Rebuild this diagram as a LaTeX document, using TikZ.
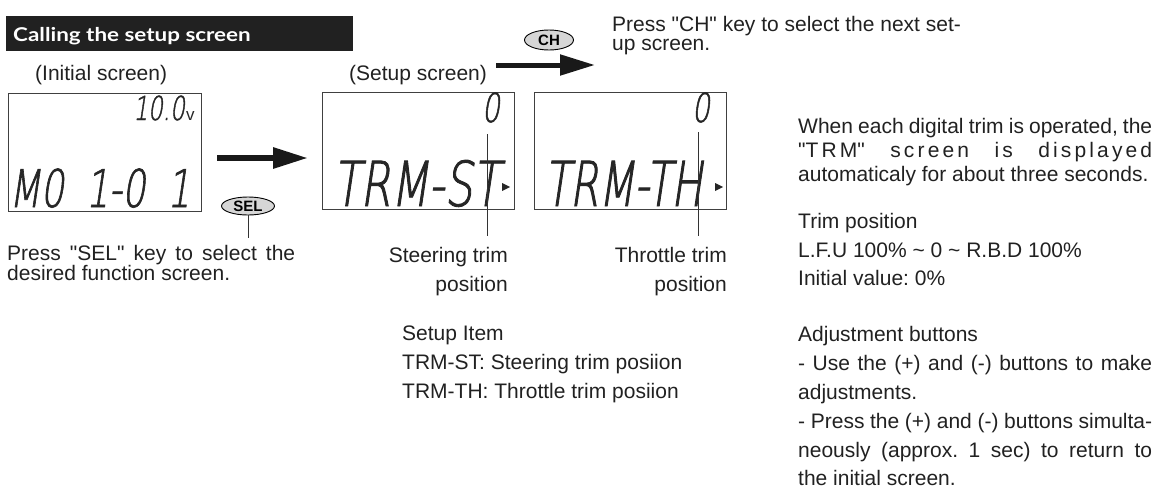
\documentclass[tikz,border=0pt]{standalone}
\usepackage{fontspec}
\setmainfont{Liberation Sans}
\newfontfamily\titlefont{Lato}[FakeStretch=1.18]
\newfontfamily\lcdfont{DejaVu Sans ExtraLight}[FakeSlant=0.15,FakeStretch=0.7,FakeBold=1.2]
\newfontfamily\lcdwide{DejaVu Sans ExtraLight}[FakeSlant=0.15,FakeStretch=0.71,FakeBold=1.4]
\newfontfamily\lcdnarrow{DejaVu Sans ExtraLight}[FakeSlant=0.15,FakeStretch=0.67,FakeBold=1.4]
\usetikzlibrary{shapes.geometric,arrows.meta}
\definecolor{ink}{gray}{0.13}
\definecolor{barfill}{gray}{0.13}
\definecolor{keyfill}{gray}{0.84}
\definecolor{lcdink}{gray}{0.15}
\newcommand\bodysize{\fontsize{21}{25}\selectfont}
\newcommand\q{\textquotedbl}
\frenchspacing
\begin{document}
\begin{tikzpicture}[x=1pt,y=-1pt,
  txt/.style={font=\bodysize, text=ink, inner sep=0pt, anchor=base west},
  txtr/.style={txt, anchor=base east},
  screen/.style={draw=black!75, line width=1.1pt, inner sep=0pt, anchor=north west},
  lcd/.style={text=lcdink, inner sep=0pt},
  keybtn/.style={ellipse, draw=black, line width=0.9pt, fill=keyfill, inner sep=0pt,
    font=\bfseries\fontsize{15}{15}\selectfont, text=black},
  bigarrow/.style={draw=black!90, -{Triangle[length=35pt,width=20pt]}},
  leader/.style={draw=black!80, line width=0.9pt},
  cursor/.style={fill=black!85}]
\useasboundingbox (0,0) rectangle (1169,490);

% title bar
\node[fill=barfill, anchor=north west, minimum width=347pt, minimum height=35pt, inner sep=0pt] (bar) at (6,16) {};
\node[anchor=base west, inner sep=0pt, text=white, font=\titlefont\bfseries\fontsize{19}{20}\selectfont] (title) at (13,41) {Calling the setup screen};

% screen captions
\node[txt] (initlbl) at (35,80) {(Initial screen)};
\node[txt] (setuplbl) at (349,80) {(Setup screen)};

% LCD screens
\node[screen, minimum width=193pt, minimum height=118pt] (scrA) at (8,93) {};
\node[screen, minimum width=192pt, minimum height=117pt] (scrB) at (322,92) {};
\node[screen, minimum width=192pt, minimum height=117pt] (scrC) at (534,92) {};

% LCD contents
\node[lcd, anchor=base east, font=\lcdfont\fontsize{33}{33}\selectfont] (volt) at (185,120) {10.0};
\node[lcd, anchor=base west, font=\fontsize{17}{17}\selectfont] (vunit) at (186,120) {v};
\node[lcd, anchor=base west, font=\lcdfont\fontsize{52}{52}\selectfont] (model) at (9,207) {M0\hspace{22pt}1-0\hspace{22pt}1};

\node[lcd, anchor=base east, font=\lcdfont\fontsize{40}{40}\selectfont] (valB) at (500,122) {0};
\node[lcd, anchor=base west, font=\lcdwide\fontsize{62}{62}\selectfont] (itemB) at (333,206) {TRM-ST};
\fill[cursor] (502,183) -- (510,187) -- (502,191) -- cycle;

\node[lcd, anchor=base east, font=\lcdfont\fontsize{40}{40}\selectfont] (valC) at (710,122) {0};
\node[lcd, anchor=base west, font=\lcdnarrow\fontsize{62}{62}\selectfont] (itemC) at (544,206) {TRM-TH};
\fill[cursor] (715,183) -- (723,187) -- (715,191) -- cycle;

% arrows
\coordinate (a1s) at (217,158);
\coordinate (a1e) at (308,158);
\draw[bigarrow, line width=6pt] (a1s) -- (a1e);
\coordinate (a2s) at (496,65);
\coordinate (a2e) at (595,65);
\draw[bigarrow, line width=5pt] (a2s) -- (a2e);

% keys
\node[keybtn, minimum width=53pt, minimum height=18pt] (sel) at (248,206) {SEL};
\coordinate (selEnd) at (248,238);
\draw[leader] (sel.south) -- (selEnd);
\node[keybtn, minimum width=49pt, minimum height=20pt] (ch) at (549,40) {CH};

% key notes
\node[txt] (selnote1) at (7,260) {\makebox[288pt][s]{Press \q SEL\q{} key to select the}};
\node[txt] (selnote2) at (7,280) {desired function screen.};
\node[txt] (chnote1) at (612,31) {Press \q CH\q{} key to select the next set-};
\node[txt] (chnote2) at (612,50) {up screen.};

% leaders to trim labels
\coordinate (stTop) at (487,134);
\coordinate (stEnd) at (487,236);
\draw[leader] (stTop) -- (stEnd);
\coordinate (thTop) at (698,132);
\coordinate (thEnd) at (698,236);
\draw[leader] (thTop) -- (thEnd);

\node[txtr] (stl1) at (508,262) {Steering trim};
\node[txtr] (stl2) at (508,291) {position};
\node[txtr] (thl1) at (727,262) {Throttle trim};
\node[txtr] (thl2) at (727,291) {position};

% setup items
\node[txt] (si1) at (402,340) {Setup Item};
\node[txt] (si2) at (402,369) {TRM-ST: Steering trim posiion};
\node[txt] (si3) at (402,398) {TRM-TH: Throttle trim posiion};

% right column
\node[txt] (r1) at (798,133) {\makebox[354pt][s]{When each digital trim is operated, the}};
\node[txt] (r2) at (798,157) {\makebox[354pt][s]{\addfontfeature{LetterSpace=15}\q TRM\q{} screen is displayed}};
\node[txt] (r3) at (798,181) {automaticaly for about three seconds.};
\node[txt] (r4) at (798,228) {Trim position};
\node[txt] (r5) at (798,257) {L.F.U 100\% \textasciitilde{} 0 \textasciitilde{} R.B.D 100\%};
\node[txt] (r6) at (798,285) {Initial value: 0\%};
\node[txt] (r7) at (798,341) {Adjustment buttons};
\node[txt] (r8) at (798,370) {\makebox[354pt][s]{- Use the (+) and (-) buttons to make}};
\node[txt] (r9) at (798,399) {adjustments.};
\node[txt] (r10) at (798,428) {\makebox[354pt][s]{- Press the (+) and (-) buttons simulta-}};
\node[txt] (r11) at (798,457) {\makebox[354pt][s]{neously (approx. 1 sec) to return to}};
\node[txt] (r12) at (798,485) {the initial screen.};
\end{tikzpicture}
\end{document}
